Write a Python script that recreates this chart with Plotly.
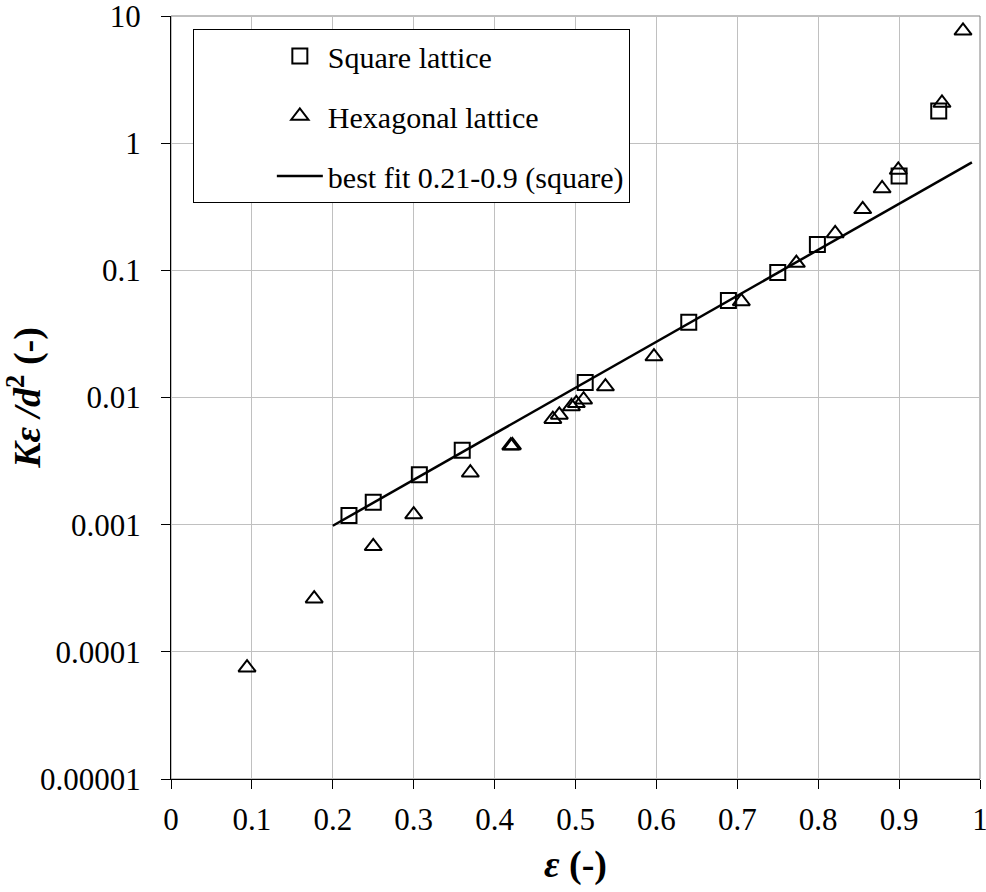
import plotly.graph_objects as go

# ---- data ----
square_x = [0.220, 0.250, 0.307, 0.360, 0.512, 0.640, 0.689, 0.750, 0.799, 0.900, 0.949]
square_y = [0.00118, 0.0015, 0.00247, 0.00384, 0.0131, 0.039, 0.0578, 0.096, 0.160, 0.552, 1.79]

hex_x = [0.094, 0.177, 0.250, 0.300, 0.370, 0.420, 0.422, 0.472, 0.480, 0.495, 0.501,
         0.510, 0.537, 0.597, 0.705, 0.773, 0.821, 0.855, 0.879, 0.899, 0.953, 0.979]
hex_y = [7.5e-5, 2.62e-4, 6.76e-4, 0.0012, 0.00256, 0.00418, 0.0042, 0.00676, 0.0073, 0.0085, 0.0090,
         0.0096, 0.0122, 0.021, 0.057, 0.114, 0.195, 0.302, 0.44, 0.615, 2.07, 7.64]

fit_x = [0.20, 0.99]
fit_y = [0.00098, 0.706]

x_tick_vals = [0, 0.1, 0.2, 0.3, 0.4, 0.5, 0.6, 0.7, 0.8, 0.9, 1.0]
x_tick_text = ["0", "0.1", "0.2", "0.3", "0.4", "0.5", "0.6", "0.7", "0.8", "0.9", "1"]
y_tick_vals = [1e-5, 1e-4, 1e-3, 1e-2, 1e-1, 1, 10]
y_tick_text = ["0.00001", "0.0001", "0.001", "0.01", "0.1", "1", "10"]

FONT = "Liberation Serif"

fig = go.Figure()
fig.add_trace(go.Scatter(
    x=square_x, y=square_y, mode="markers", name="Square lattice", legendgroup="a",
    marker=dict(symbol="square-open", size=15, color="black", line=dict(width=2, color="black")),
))
fig.add_trace(go.Scatter(
    x=hex_x, y=hex_y, mode="markers", name="Hexagonal lattice", legendgroup="b",
    marker=dict(symbol="triangle-up-open", size=15, color="black", line=dict(width=2, color="black")),
))
fig.add_trace(go.Scatter(
    x=fit_x, y=fit_y, mode="lines", name="best fit 0.21-0.9 (square)", legendgroup="c",
    line=dict(color="black", width=2.5),
))

fig.add_shape(type="rect", xref="x domain", yref="y domain", x0=0, x1=1, y0=0, y1=1,
              line=dict(color="#808080", width=1), layer="below")

fig.update_layout(
    width=986, height=892,
    margin=dict(l=171, r=6, t=16, b=113, autoexpand=False),
    paper_bgcolor="white", plot_bgcolor="white",
    font=dict(family=FONT, size=30, color="black"),
    showlegend=True,
    legend=dict(
        x=0.027, y=0.983, xanchor="left", yanchor="top",
        bgcolor="white", bordercolor="black", borderwidth=1,
        font=dict(family=FONT, size=30, color="black"),
        tracegroupgap=18, indentation=78, itemwidth=46,
    ),
    xaxis=dict(
        range=[0, 1], tickvals=x_tick_vals, ticktext=x_tick_text,
        showgrid=True, gridcolor="#c0c0c0", gridwidth=1,
        showline=True, linecolor="black", linewidth=1,
        ticks="outside", ticklen=9, tickcolor="black", tickwidth=1,
        ticklabelstandoff=4, automargin=False, ticklabeloverflow="allow",
        tickfont=dict(family=FONT, size=31),
        zeroline=False,
        title=dict(text="<b><i>ε</i> (-)</b>", font=dict(family=FONT, size=38), standoff=14),
    ),
    yaxis=dict(
        type="log", range=[-5, 1], tickvals=y_tick_vals, ticktext=y_tick_text,
        showgrid=True, gridcolor="#c0c0c0", gridwidth=1,
        showline=True, linecolor="black", linewidth=1,
        ticks="outside", ticklen=9, tickcolor="black", tickwidth=1,
        ticklabelstandoff=14, automargin=False, ticklabeloverflow="allow",
        tickfont=dict(family=FONT, size=31),
        zeroline=False,
        title=dict(text="<b><i>Kε /d</i><sup>2</sup> (-)</b>", font=dict(family=FONT, size=38), standoff=2),
    ),
)

fig.write_html("out.html", config={"displayModeBar": False},
               post_script="document.body.style.margin='0';")
